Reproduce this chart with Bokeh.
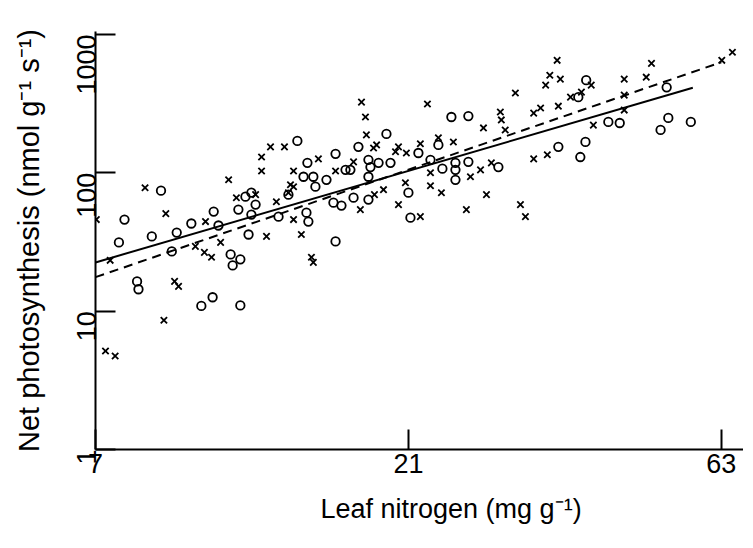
import math
from bokeh.plotting import figure
from bokeh.models import Range1d, FixedTicker, PrintfTickFormatter, Title
from bokeh.embed import file_html
from bokeh.resources import INLINE

# ---- data ----
x_cross = [7.02, 7.37, 8.33, 8.96, 9.24, 9.37, 8.9, 7.25, 7.5, 10.3, 9.94, 10.26, 10.52, 10.86,
           11.17, 11.48, 12.28, 13.21, 14.03, 14.03, 12.76, 14.42, 14.94, 15.04, 12.54, 12.54,
           12.94, 13.59, 14.03, 13.88, 15.31, 16.26, 17.32, 17.81, 18.06, 18.12, 18.58, 18.78,
           20.28, 20.85, 20.07, 21.9, 22.45, 23.33, 24.59, 27.33, 20.78, 22.69, 23.58, 27.62,
           19.24, 18.64, 17.74, 20.28, 21.9, 25.74, 31.12, 31.67, 22.69, 27.05, 26.11, 28.1,
           32.6, 34.2, 29.0, 29.1, 32.6, 33.4, 29.5, 30.57, 34.0, 34.5, 35.8, 35.4, 35.55, 37.1,
           38.55, 39.9, 44.8, 48.4, 49.3, 44.8, 44.8, 40.2, 63.1, 65.5, 13.78]
y_cross = [45.9, 23.3, 78, 50.7, 16.4, 15.1, 8.6, 5.15, 4.74, 44.4, 29.4, 26.6, 24.5, 31.4,
           89, 66, 69.5, 61.8, 79.3, 45.9, 34.7, 35.8, 24.5, 22.5, 130, 103,
           154, 154, 103, 82, 126, 103, 120, 324, 253, 188, 151, 159,
           154, 139, 142, 162, 314, 179, 167, 211, 84.7, 80.6, 71.8, 69.5,
           75.5, 69.5, 54.2, 58.9, 48.2, 54.2, 58.9, 48.2, 100, 105, 93.6, 118,
           126, 135, 275, 241, 270, 294, 204, 377, 430, 507, 475, 650, 303, 352,
           383, 430, 475, 491, 618, 364, 284, 221, 650, 743, 71.8]

x_circle = [7.75, 7.6, 8.81, 8.53, 8.1, 8.14, 9.31, 9.8, 10.6, 10.78, 9.15, 11.25, 11.33, 11.64,
            10.15, 10.56, 11.64, 11.85, 11.56, 12.28, 12.1, 13.78, 13.31, 14.78, 14.68, 11.98,
            14.22, 14.73, 16.26, 14.53, 15.04, 15.15, 15.75, 16.84, 17.13, 17.62, 19.44, 24.42,
            25.92, 18.25, 18.38, 18.91, 19.72, 21.75, 22.69, 23.33, 23.66, 24.77, 24.77, 25.92,
            28.8, 24.77, 18.25, 21.0, 18.25, 17.32, 16.14, 16.6, 21.15, 16.26, 12.1, 35.55,
            38.4, 39.1, 42.37, 44.1, 50.9, 52.3, 56.6, 52.0, 39.2, 38.13]
y_circle = [45.9, 31.4, 74.2, 34.7, 16.4, 14.4, 37.0, 43.0, 52.4, 41.6, 27.0, 25.7, 21.4, 23.7,
            10.9, 12.6, 11.0, 67.2, 54.2, 58.9, 49.9, 69.5, 48.2, 44.4, 51.5, 35.8,
            170, 118, 137, 93.6, 93.6, 79.3, 89, 105, 105, 154, 191, 253,
            257, 124, 110, 118, 118, 139, 124, 159, 107, 118, 105, 120,
            110, 89, 93.6, 71.8, 64, 66.1, 60.8, 57.9, 47.4, 31.9, 71.8, 154,
            130, 167, 233, 229, 204, 249, 233, 415, 467, 352]

fit_solid_x = [7, 57]
fit_solid_y = [22.5, 412]
fit_dashed_x = [7, 63]
fit_dashed_y = [17.6, 630]

x_ticks = [7, 21, 63]
y_ticks = [1, 10, 100, 1000]
x_title = "Leaf nitrogen (mg g\u207b\u00b9)"
y_title = "Net photosynthesis (nmol g\u207b\u00b9 s\u207b\u00b9)"

FONT = "Liberation Sans"

p = figure(width=743, height=539, x_axis_type="log", y_axis_type="log",
           x_range=Range1d(7, 68.1), y_range=Range1d(1, 1050),
           output_backend="svg", toolbar_location=None,
           min_border_left=95, min_border_right=0, min_border_top=31, min_border_bottom=90)
p.outline_line_color = None
p.xgrid.visible = False
p.ygrid.visible = False
p.background_fill_color = "white"
p.border_fill_color = "white"

p.line(fit_solid_x, fit_solid_y, line_color="black", line_width=2)
p.line(fit_dashed_x, fit_dashed_y, line_color="black", line_width=2, line_dash="9 6")

p.scatter(x_cross, y_cross, marker="x", size=9, line_color="black", line_width=1.8)
p.scatter(x_circle, y_circle, marker="circle", size=8.5, line_color="black",
          fill_color=None, line_width=1.8)

for ax in (p.xaxis[0], p.yaxis[0]):
    ax.axis_line_width = 2
    ax.major_tick_line_width = 2
    ax.major_tick_in = 20
    ax.major_tick_out = 0
    ax.minor_tick_line_color = None
    ax.major_label_text_font = FONT
    ax.major_label_text_font_size = "27px"
    ax.major_label_text_color = "black"
    ax.axis_label_text_font = FONT
    ax.axis_label_text_font_style = "normal"
    ax.axis_label_text_color = "black"

p.xaxis.ticker = FixedTicker(ticks=x_ticks)
p.yaxis.ticker = FixedTicker(ticks=y_ticks)
p.xaxis.formatter = PrintfTickFormatter(format="%d")
p.yaxis.formatter = PrintfTickFormatter(format="%d")
p.yaxis.major_label_orientation = math.pi / 2
p.xaxis.major_label_standoff = 4
p.yaxis.major_label_standoff = 9
p.yaxis.axis_label = y_title
p.yaxis.axis_label_text_font_size = "29px"
p.yaxis.axis_label_standoff = 20

# x-axis title as a title below the axis, shifted right as in the original
xt = Title(text=x_title, align="left", offset=225, text_font=FONT,
           text_font_size="27px", text_font_style="normal", text_color="black",
           standoff=32)
p.add_layout(xt, "below")

open("out.html", "w").write(file_html(p, INLINE))
